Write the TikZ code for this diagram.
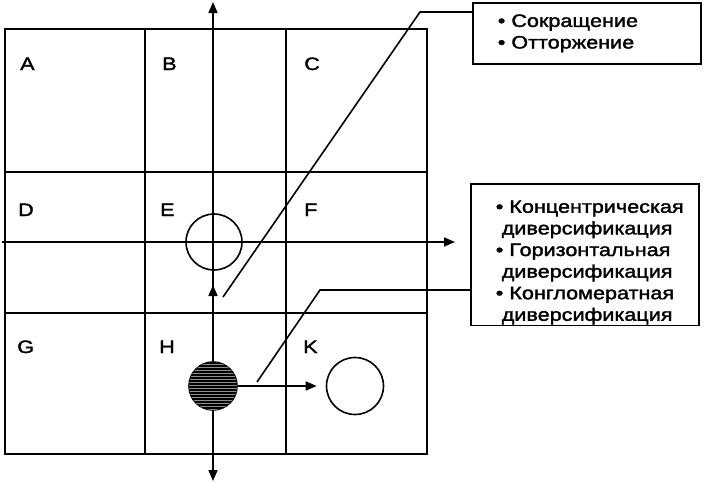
\documentclass[tikz,border=0pt]{standalone}
\usepackage{fontspec}
\setmainfont{Liberation Sans}[FakeStretch=1.2,FakeBold=1.8]
\usetikzlibrary{arrows.meta,patterns}
\pgfdeclarelayer{background layer}
\pgfsetlayers{background layer,main}
\tikzstyle{cell}=[line width=1.6pt]
\tikzstyle{cellbold}=[line width=2.3pt]
\tikzstyle{cellname}=[anchor=base west,inner sep=0pt,font=\fontsize{18}{21.6}\selectfont]
\tikzstyle{ring}=[circle,draw=black,line width=1.6pt,inner sep=0pt]
\tikzstyle{listbox}=[draw=black,line width=1.6pt,anchor=north west,align=left,text width=178pt,inner xsep=25pt,font=\fontsize{18}{21.6}\selectfont]
\tikzstyle{arr}=[line width=1.6pt,-{Triangle[length=11pt,width=9pt]}]
\tikzstyle{arrboth}=[line width=1.6pt,{Triangle[length=11pt,width=9pt]}-{Triangle[length=11pt,width=9pt]}]
\tikzstyle{leader}=[line width=1.6pt]
\newcommand{\itm}{\textbullet~}

\begin{document}
\begin{tikzpicture}[x=1pt,y=-1pt]
			\useasboundingbox (0,0) rectangle (704,482);
			% the nine cells
			\draw[cell] (5,29) rectangle (427,454);
			\draw[cell] (145,29) -- (145,454);
			\draw[cellbold] (286,29) -- (286,454);
			\draw[cell] (5,172) -- (427,172);
			\draw[cellbold] (5,313) -- (427,313);
			\node[cellname] (A) at (20,70) {A};
			\node[cellname] (B) at (162,70) {B};
			\node[cellname] (C) at (304,70) {C};
			\node[cellname] (D) at (18,216) {D};
			\node[cellname] (E) at (160,216) {E};
			\node[cellname] (F) at (304,216) {F};
			\node[cellname] (G) at (17,353) {G};
			\node[cellname] (H) at (159,353) {H};
			\node[cellname] (K) at (303,353) {K};
			% positions
			\node[ring,minimum size=56pt] (ringE) at (214,242) {};
			\node[ring,fill=black,postaction={pattern=horizontal lines,pattern color=white!55!black},minimum size=48pt] (ringH) at (213,386) {};
			\node[ring,minimum size=57pt] (ringK) at (355,386) {};
			% lists
			\node[listbox,minimum height=61pt] (cut) at (472,2) {\itm Сокращение\\ \itm Отторжение};
			\node[listbox,inner ysep=1pt] (grow) at (470,183) {\rule{0pt}{28pt}\itm Концентрическая\\
				\hspace*{6pt}диверсификация\\
				\itm Горизонтальная\\
				\hspace*{6pt}диверсификация\\
				\itm Конгломератная\\
				\hspace*{6pt}диверсификация};
			\coordinate (vtop) at (213,2);
			\coordinate (vbot) at (213,481);
			\coordinate (hbeg) at (2,242);
			\coordinate (upTip) at (213,285);
			\coordinate (cutFoot) at (223,297);
			\coordinate (cutKnee) at (420,12);
			\coordinate (growFoot) at (257,382);
			\coordinate (growKnee) at (320,290);
			\begin{pgfonlayer}{background layer}
				\draw[arrboth] (vbot) -- (vtop);
				\draw[arr,shorten >=15pt] (hbeg) -- (hbeg -| grow.west);
				\draw[arr] (ringH.north) -- (upTip);
			\end{pgfonlayer}
			\draw[arr,shorten >=9pt] (ringH.east) -- (ringK.west);
			\draw[leader] (cutFoot) -- (cutKnee) -- (cutKnee -| cut.west);
			\draw[leader] (growFoot) -- (growKnee) -- (growKnee -| grow.west);
		\end{tikzpicture}
\end{document}
